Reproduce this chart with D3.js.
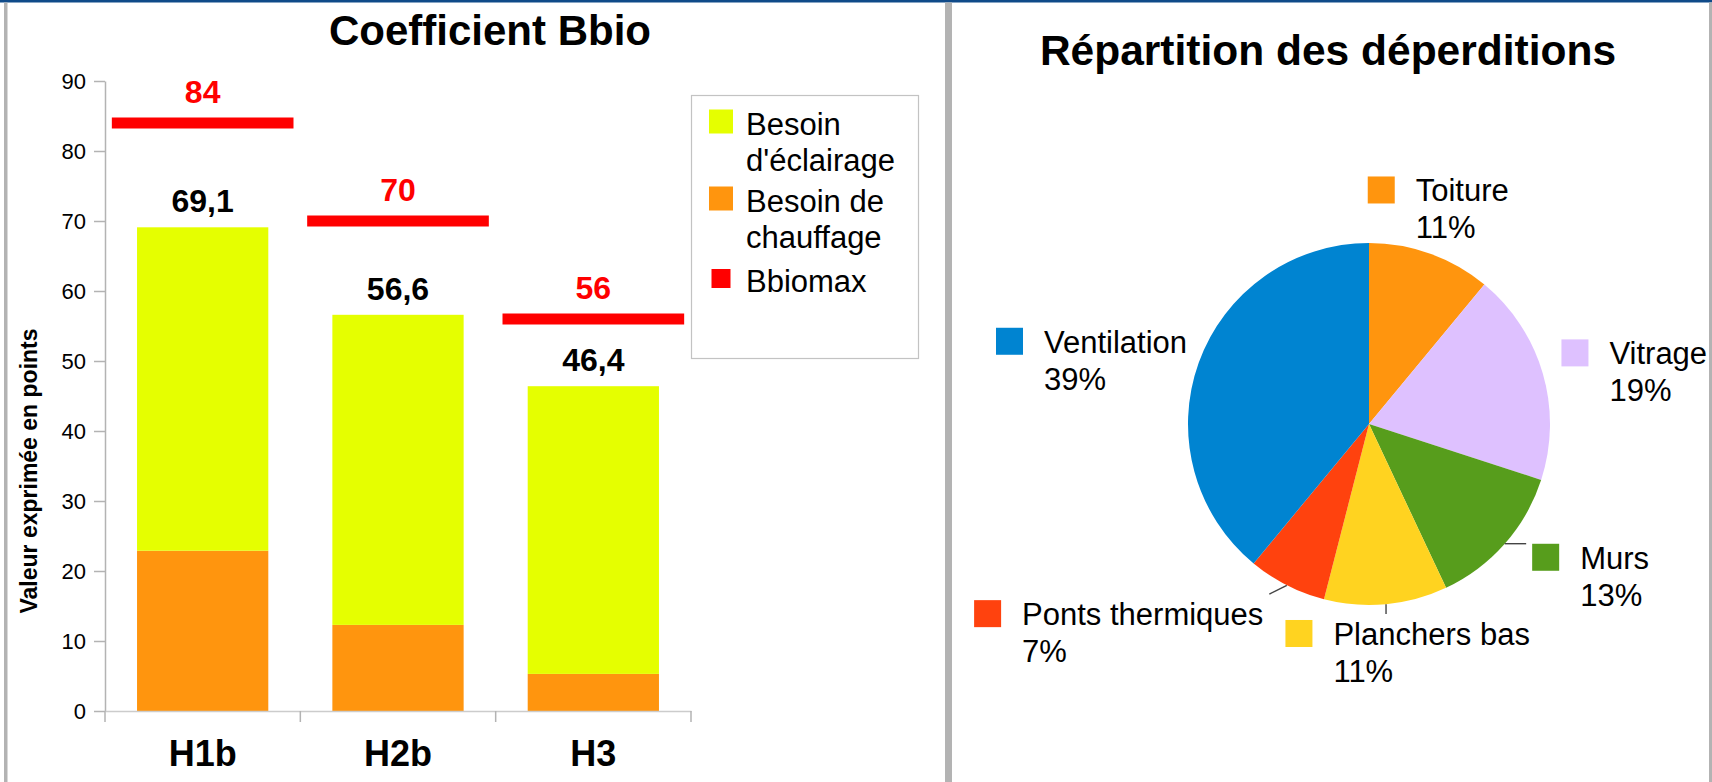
<!DOCTYPE html>
<html>
<head>
<meta charset="utf-8">
<script src="https://cdn.jsdelivr.net/npm/d3@7"></script>
<style>
  html, body { margin: 0; padding: 0; background: #fff; }
  svg { display: block; font-family: "Liberation Sans", Arial, sans-serif; }
</style>
</head>
<body>
<svg id="chart" width="1712" height="782"></svg>
<script>
// ---- Coefficient Bbio par zone climatique ----
const zones = ["H1b", "H2b", "H3"];
const heatingNeed = [22.9, 12.3, 5.3];      // Besoin de chauffage
const bbioTotal = [69.1, 56.6, 46.4];       // Bbio du projet (chauffage + éclairage)
const bbioMax = [84, 70, 56];               // Bbiomax réglementaire
const yTickValues = [0, 10, 20, 30, 40, 50, 60, 70, 80, 90];
const totalLabels = ["69,1", "56,6", "46,4"];
const maxLabels = ["84", "70", "56"];
const legendLines = [["Besoin", "d'éclairage"], ["Besoin de", "chauffage"], ["Bbiomax"]];

// ---- Répartition des déperditions ----
const lossCategories = ["Toiture", "Vitrage", "Murs", "Planchers bas", "Ponts thermiques", "Ventilation"];
const lossShares = [11, 19, 13, 11, 7, 39];

// ---- Styles ----
const COL_LIGHT = "#e5ff00";
const COL_HEAT = "#ff950e";
const COL_MAX = "#ff0000";
const lossColors = ["#ff950e", "#dec1ff", "#579d1c", "#ffd320", "#ff420e", "#0084d1"];

const svg = d3.select("#chart");

svg.append("rect").attr("x", 0).attr("y", 0).attr("width", 1712).attr("height", 782).attr("fill", "#fff");

// ================= Bar chart =================
const y = d3.scaleLinear().domain([0, 90]).range([711, 81]);
const x = d3.scaleBand().domain(zones).range([105, 691]).paddingInner(0.328).paddingOuter(0.164);
const step = x.step();

svg.append("text")
  .attr("x", 490).attr("y", 45)
  .attr("text-anchor", "middle")
  .attr("font-size", 42).attr("font-weight", "bold")
  .text("Coefficient Bbio");

// y axis
const yAxis = svg.append("g")
  .attr("transform", "translate(105,0)")
  .call(d3.axisLeft(y).tickValues(yTickValues).tickSize(11).tickPadding(8).tickSizeOuter(0));
yAxis.select(".domain").attr("stroke", "#b3b3b3").attr("stroke-width", 1.5);
yAxis.selectAll(".tick line").attr("stroke", "#b3b3b3").attr("stroke-width", 1.5);
yAxis.selectAll(".tick text")
  .attr("font-family", "'Liberation Sans', Arial, sans-serif")
  .attr("font-size", 22).attr("fill", "#000");

svg.append("text")
  .attr("transform", "translate(37,471) rotate(-90)")
  .attr("text-anchor", "middle")
  .attr("font-size", 23).attr("font-weight", "bold")
  .text("Valeur exprimée en points");

// stacked bars
const bars = svg.append("g");
zones.forEach((z, i) => {
  bars.append("rect")
    .attr("x", x(z)).attr("width", x.bandwidth())
    .attr("y", y(heatingNeed[i])).attr("height", y(0) - y(heatingNeed[i]))
    .attr("fill", COL_HEAT);
  bars.append("rect")
    .attr("x", x(z)).attr("width", x.bandwidth())
    .attr("y", y(bbioTotal[i])).attr("height", y(heatingNeed[i]) - y(bbioTotal[i]))
    .attr("fill", COL_LIGHT);
});

// x axis
const xAxis = svg.append("g")
  .attr("transform", "translate(0,711)")
  .call(d3.axisBottom(x).tickSize(0).tickSizeOuter(0).tickPadding(0));
xAxis.select(".domain").attr("stroke", "#cccccc").attr("stroke-width", 1.5);
xAxis.selectAll(".tick text")
  .attr("font-family", "'Liberation Sans', Arial, sans-serif")
  .attr("font-size", 36).attr("font-weight", "bold").attr("fill", "#000")
  .attr("dy", null).attr("y", 55);
const bounds = zones.map(z => x(z) - step * x.paddingInner() / 2);
bounds.push(x(zones[zones.length - 1]) + x.bandwidth() + step * x.paddingInner() / 2);
svg.append("g").selectAll("line").data(bounds).join("line")
  .attr("x1", d => d).attr("x2", d => d)
  .attr("y1", 711).attr("y2", 722)
  .attr("stroke", "#b3b3b3").attr("stroke-width", 1.5);

// Bbiomax markers and value labels
const maxW = step * 0.93;
zones.forEach((z, i) => {
  const cx = x(z) + x.bandwidth() / 2;
  svg.append("rect")
    .attr("x", cx - maxW / 2).attr("width", maxW)
    .attr("y", y(bbioMax[i]) - 5.5).attr("height", 11)
    .attr("fill", COL_MAX);
  svg.append("text")
    .attr("x", cx).attr("y", y(bbioMax[i]) - 20)
    .attr("text-anchor", "middle")
    .attr("font-size", 32).attr("font-weight", "bold").attr("fill", COL_MAX)
    .text(maxLabels[i]);
  svg.append("text")
    .attr("x", cx).attr("y", y(bbioTotal[i]) - 15)
    .attr("text-anchor", "middle")
    .attr("font-size", 32).attr("font-weight", "bold").attr("fill", "#000")
    .text(totalLabels[i]);
});

// legend
const legend = svg.append("g");
legend.append("rect")
  .attr("x", 691.5).attr("y", 95.5).attr("width", 227).attr("height", 263)
  .attr("fill", "none").attr("stroke", "#c3c3c3").attr("stroke-width", 1.2);
const legendColors = [COL_LIGHT, COL_HEAT, COL_MAX];
const legendBaselines = [135, 212, 292];
legendLines.forEach((lines, i) => {
  const b = legendBaselines[i];
  const s = i === 2 ? 19 : 24;
  legend.append("rect")
    .attr("x", 721 - s / 2).attr("y", b - 13.5 - s / 2)
    .attr("width", s).attr("height", s)
    .attr("fill", legendColors[i]);
  lines.forEach((t, k) => {
    legend.append("text")
      .attr("x", 746).attr("y", b + k * 36)
      .attr("font-size", 31).attr("fill", "#000")
      .text(t);
  });
});

// ================= Pie chart =================
svg.append("text")
  .attr("x", 1328).attr("y", 65)
  .attr("text-anchor", "middle")
  .attr("font-size", 42.5).attr("font-weight", "bold")
  .text("Répartition des déperditions");

const pieCx = 1369, pieCy = 424, R = 181;
const lossData = lossCategories.map((name, i) => ({ name, share: lossShares[i], color: lossColors[i] }));
const pie = d3.pie().sort(null).value(d => d.share);
const arcGen = d3.arc().innerRadius(0).outerRadius(R);
const arcs = pie(lossData);

const pieG = svg.append("g").attr("transform", `translate(${pieCx},${pieCy})`);
pieG.selectAll("path").data(arcs).join("path")
  .attr("d", arcGen)
  .attr("fill", d => d.data.color);

// label placement: block set outside the slice, with small nudges to avoid collisions
const labelNudge = {
  "Toiture": [-20, 2], "Vitrage": [10, 14], "Murs": [33, 4],
  "Planchers bas": [9, 4], "Ponts thermiques": [-97, 8], "Ventilation": [-6, 16]
};
const withLeader = new Set(["Murs", "Planchers bas", "Ponts thermiques"]);
const SQ = 27, TXT_DX = 48, BLOCK_H = 70;
const labelsG = svg.append("g");
arcs.forEach(a => {
  const mid = (a.startAngle + a.endAngle) / 2;
  const s = Math.sin(mid), c = Math.cos(mid);
  const g = labelsG.append("g");
  const t1 = g.append("text").attr("font-size", 31).attr("fill", "#000").text(a.data.name);
  const t2 = g.append("text").attr("font-size", 31).attr("fill", "#000").text(a.data.share + "%");
  const w = TXT_DX + Math.max(t1.node().getComputedTextLength(), t2.node().getComputedTextLength());
  const px = pieCx + (R + 12) * s, py = pieCy - (R + 12) * c;
  const fx = (1 - s) / 2, fy = (1 + c) / 2;
  const nd = labelNudge[a.data.name] || [0, 0];
  const left = px - fx * w + nd[0];
  const top = py - fy * BLOCK_H + nd[1];
  g.append("rect").attr("x", left).attr("y", top).attr("width", SQ).attr("height", SQ).attr("fill", a.data.color);
  t1.attr("x", left + TXT_DX).attr("y", top + 25);
  t2.attr("x", left + TXT_DX).attr("y", top + 62);
  if (withLeader.has(a.data.name)) {
    const ex = pieCx + R * s, ey = pieCy - R * c;
    const pad = 6;
    const lx = Math.max(left - pad, Math.min(ex, left + w + pad));
    const ly = Math.max(top - pad, Math.min(ey, top + BLOCK_H + pad));
    labelsG.append("line")
      .attr("x1", ex).attr("y1", ey).attr("x2", lx).attr("y2", ly)
      .attr("stroke", "#444").attr("stroke-width", 1.4);
  }
});

// frame lines on top
svg.append("rect").attr("x", 0).attr("y", 0).attr("width", 1712).attr("height", 2.5).attr("fill", "#0f4a89");
svg.append("rect").attr("x", 4).attr("y", 2.5).attr("width", 3.5).attr("height", 779.5).attr("fill", "#b3b3b3");
svg.append("rect").attr("x", 945).attr("y", 2.5).attr("width", 7).attr("height", 779.5).attr("fill", "#b3b3b3");
svg.append("rect").attr("x", 1709).attr("y", 2.5).attr("width", 3).attr("height", 779.5).attr("fill", "#b3b3b3");
</script>
</body>
</html>
